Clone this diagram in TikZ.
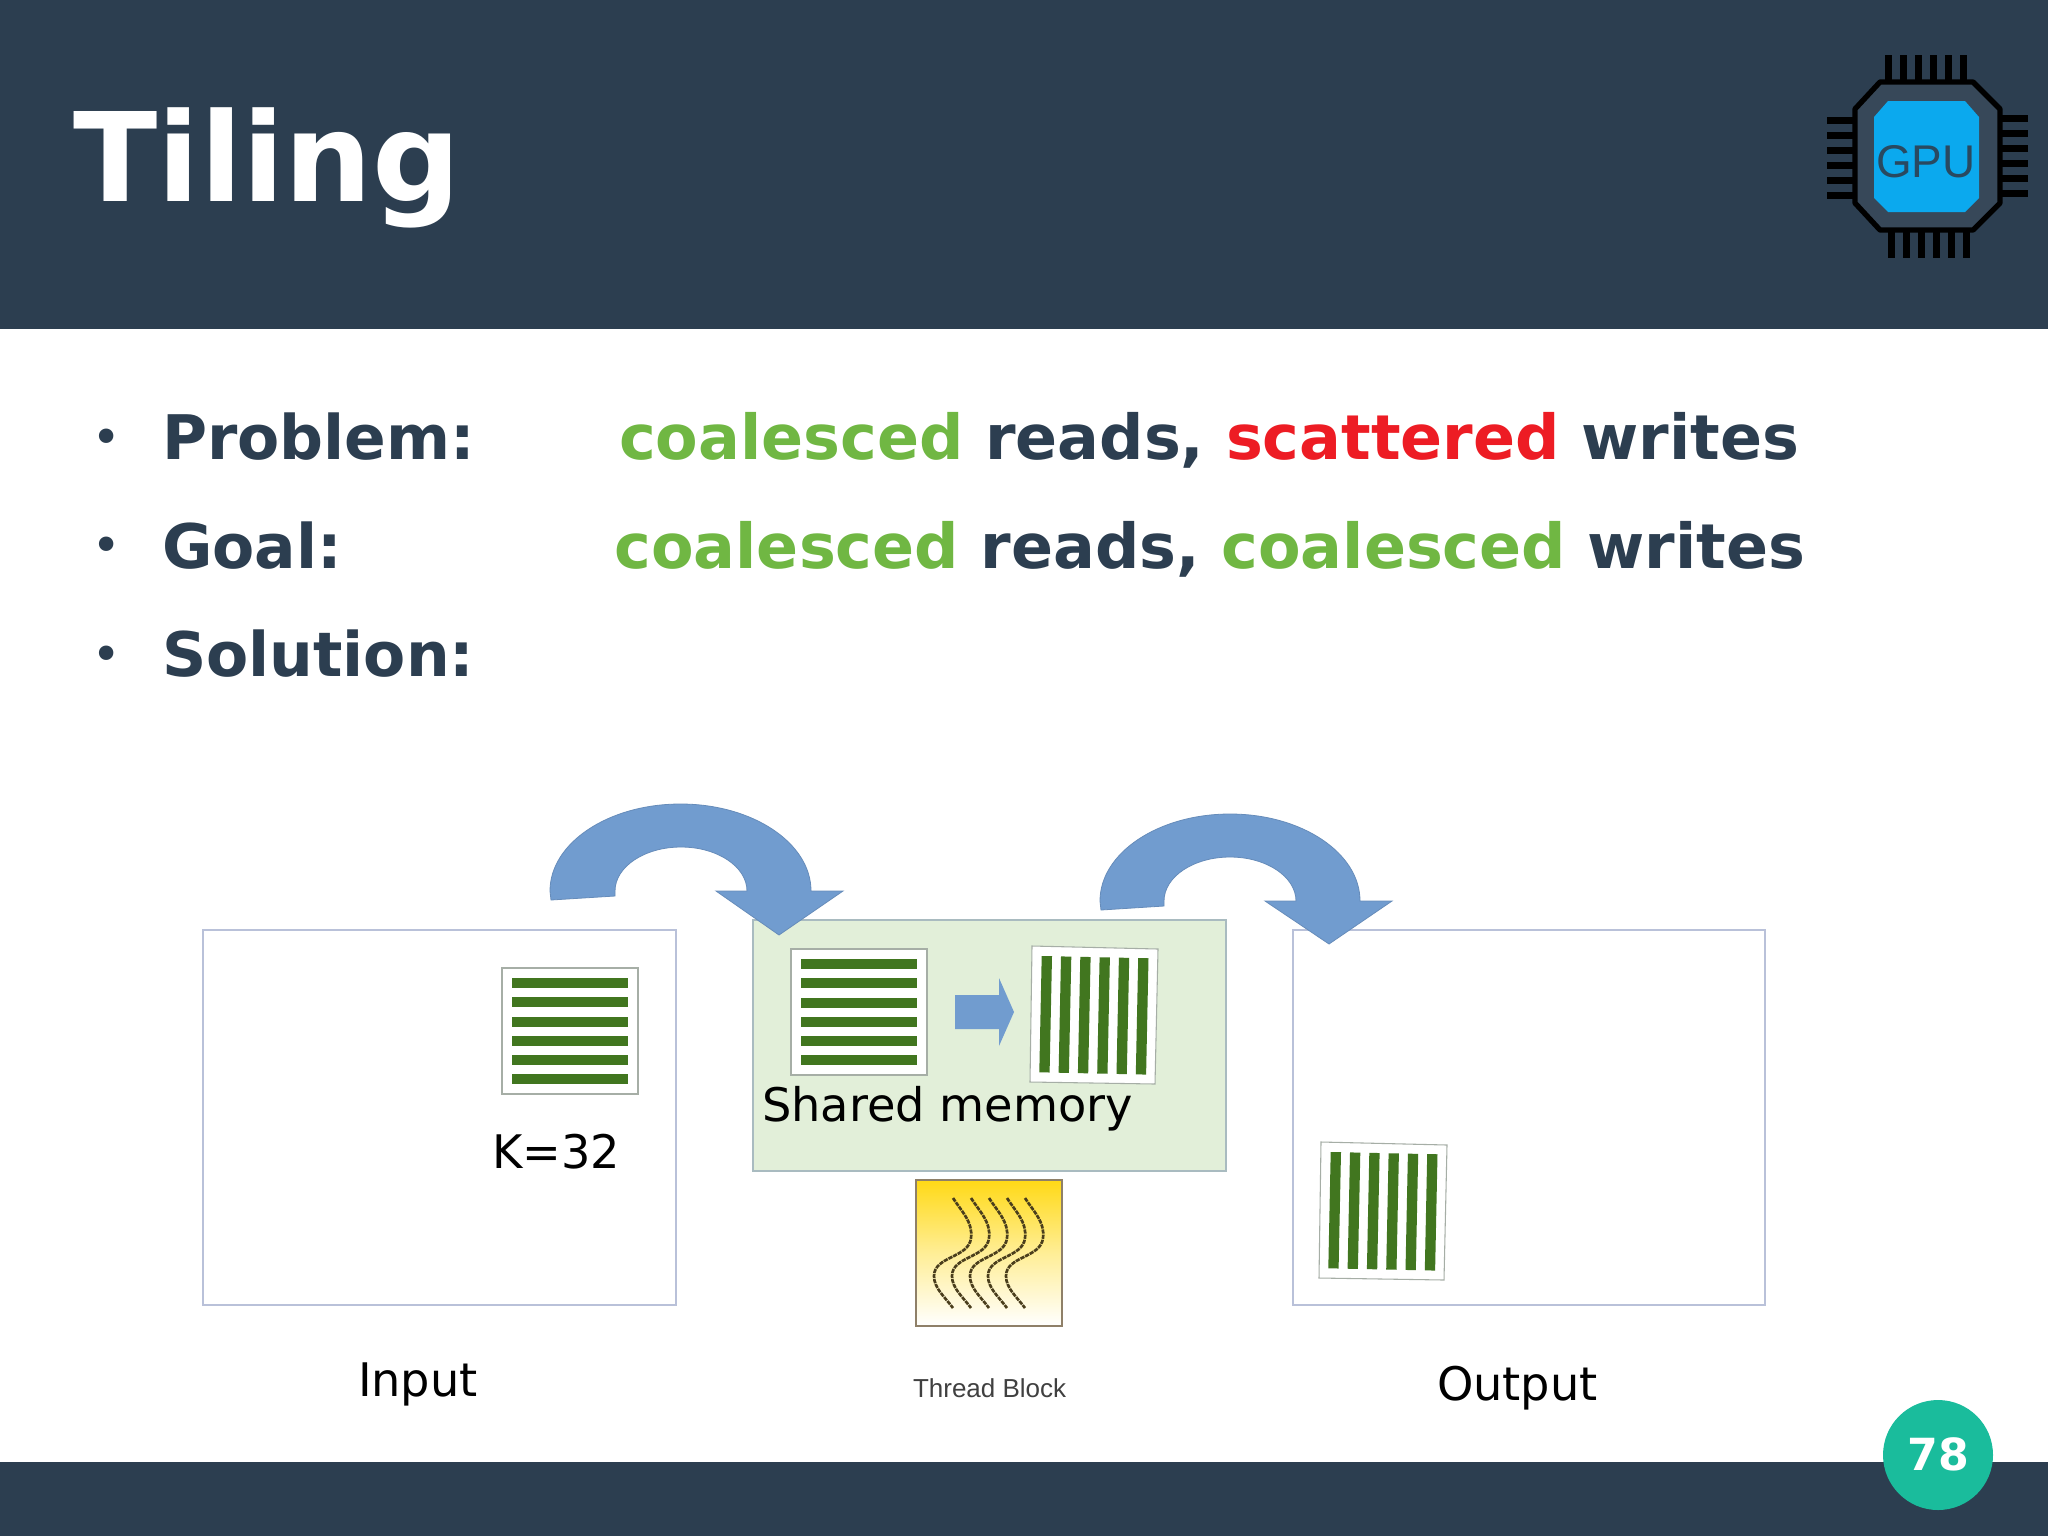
\documentclass[tikz,border=0pt]{standalone}
\usepackage{fontspec}
\setmainfont{DejaVu Sans}
\newfontfamily\libsans{Liberation Sans}
\usetikzlibrary{shadings}
\definecolor{navy}{HTML}{2C3E50}
\definecolor{okgreen}{HTML}{70B743}
\definecolor{badred}{HTML}{ED1C24}
\definecolor{teal}{HTML}{1ABC9C}
\definecolor{arrowblue}{HTML}{719CCF}
\definecolor{bargreen}{HTML}{41761F}
\definecolor{memfill}{HTML}{E2EFD9}
\definecolor{memline}{HTML}{A9BBC0}
\definecolor{boxline}{HTML}{B9C1D9}
\definecolor{tileline}{HTML}{A6AEA6}
\definecolor{chipcyan}{HTML}{0BA9EE}
\definecolor{threadline}{HTML}{4A3E1C}
\definecolor{threadtop}{HTML}{FFD916}
\definecolor{threadframe}{HTML}{8F8068}
\tikzset{
  txt/.style={anchor=base west,inner sep=0pt,outer sep=0pt},
  headword/.style={txt,text=navy,font=\fontsize{23.05}{28}\selectfont\bfseries},
  bulletline/.style={txt,text=navy,font=\fontsize{23.25}{28}\selectfont\bfseries},
  bulletdot/.style={txt,text=navy,font=\fontsize{15.4}{18}\selectfont\bfseries},
  label/.style={txt,text=black,font=\fontsize{17.35}{22}\selectfont},
  bigarrow/.style={fill=arrowblue,draw=arrowblue!90!black,line width=0.3pt,line join=miter},
  areabox/.style={fill=white,draw=boxline,line width=0.55pt},
  tilebox/.style={fill=white,draw=tileline,line width=0.4pt},
  thread/.style={draw=threadline,line width=1pt,dash pattern=on 1.6pt off 0.35pt}
}
\begin{document}
\begin{tikzpicture}[x=0.375pt,y=-0.375pt]
\useasboundingbox (0,0) rectangle (2048,1536);
\fill[white] (0,0) rectangle (2048,1536);
% bands
\fill[navy] (0,0) rectangle (2048,329);
\fill[navy] (0,1462) rectangle (2048,1536);
% title
\node[txt,text=white,font=\fontsize{46.3}{54}\selectfont\bfseries] (title) at (73.5,201.5) {Tiling};
% chip
\foreach \i in {0,...,5}{
  \fill[black] ({1885+15*\i},55) rectangle ({1891.5+15*\i},84);
  \fill[black] ({1888+15*\i},228) rectangle ({1894.5+15*\i},258);
  \fill[black] (1827,{117+15*\i}) rectangle (1857,{123.5+15*\i});
  \fill[black] (1998,{115+15*\i}) rectangle (2028,{121.5+15*\i});
}
\draw[black,line width=2pt,line join=round,fill=navy!95!white] (1880,82) -- (1973,82) -- (2000,109) -- (2000,203) -- (1973,230) -- (1880,230) -- (1855,203) -- (1855,109) -- cycle;
\fill[chipcyan] (1888,101) -- (1965,101) -- (1979,117) -- (1979,198) -- (1965,212) -- (1888,212) -- (1874,198) -- (1874,117) -- cycle;
\node[txt,text=navy!90!chipcyan,font=\libsans\fontsize{17.2}{20}\selectfont] (gpu) at (1876,177) {GPU};
% bullets
\node[bulletdot] (b1) at (93.5,451) {•};
\node[bulletdot] (b2) at (93.5,559) {•};
\node[bulletdot] (b3) at (93.5,668) {•};
\node[headword] (problem) at (162,459.5) {Problem:};
\node[headword] (goal) at (162,568) {Goal:};
\node[headword] (solution) at (162,676.5) {Solution:};
\node[bulletline] (line1) at (619,459.5) {\textcolor{okgreen}{coalesced} reads, \textcolor{badred}{scattered} writes};
\node[bulletline] (line2) at (614.5,568) {\textcolor{okgreen}{coalesced} reads, \textcolor{okgreen}{coalesced} writes};
% areas
\draw[areabox] (203,930) rectangle (676,1305);
\draw[areabox] (1293,930) rectangle (1765,1305);
\draw[fill=memfill,draw=memline,line width=0.55pt] (753,920) rectangle (1226,1171);
% input tile
\draw[tilebox] (502,968) rectangle (638,1094);
\foreach \i in {0,...,5}
  \fill[bargreen] (512,{978+19.25*\i}) rectangle (628,{988+19.25*\i});
% memory tile
\draw[tilebox] (791,949) rectangle (927,1075);
\foreach \i in {0,...,5}
  \fill[bargreen] (801,{959+19.25*\i}) rectangle (917,{969+19.25*\i});
% rotated tiles
\foreach \dx/\dy in {0/0,289/196}{
  \begin{scope}[shift={(\dx,\dy)}]
    \draw[tilebox] (1032,946) -- (1158,949) -- (1155,1084) -- (1030,1082) -- cycle;
    \foreach \i in {0,...,5}
      \fill[bargreen] ({1041.7+19.3*\i},{956+0.41*\i}) -- ({1052+19.3*\i},{956.2+0.41*\i}) -- ({1049.6+19.3*\i},{1072.5+0.41*\i}) -- ({1039.3+19.3*\i},{1072.3+0.41*\i}) -- cycle;
  \end{scope}
}
% small arrow
\fill[arrowblue] (955,995) -- (999,995) -- (999,978) -- (1014,1012) -- (999,1046) -- (999,1029) -- (955,1029) -- cycle;
% curved arrows
\draw[bigarrow] (551,900) -- (550,891) arc[start angle=180,end angle=360,x radius=130.5,y radius=87] -- (843,891) -- (779,935) -- (716,891) -- (747,891) arc[start angle=360,end angle=180,x radius=66,y radius=44] -- (615,896) -- cycle;
\draw[bigarrow] (1101,910) -- (1100,901) arc[start angle=180,end angle=360,x radius=130,y radius=87] -- (1392,901) -- (1329,944) -- (1265,901) -- (1296,901) arc[start angle=360,end angle=180,x radius=66,y radius=44] -- (1164,906) -- cycle;
% thread block
\shade[top color=threadtop,bottom color=white,middle color=threadtop!45!white] (916,1180) rectangle (1062,1326);
\draw[threadframe,line width=0.7pt] (916,1180) rectangle (1062,1326);
\foreach \i in {0,...,4}
  \draw[thread] ({953+18*\i},1198) .. controls ({962+18*\i},1212) and ({973+18*\i},1222) .. ({971+18*\i},1238) .. controls ({969+18*\i},1258) and ({934+18*\i},1256) .. ({934+18*\i},1276) .. controls ({934+18*\i},1288) and ({944+18*\i},1296) .. ({953+18*\i},1308);
% labels
\node[label] (shared) at (762,1121) {Shared memory};
\node[label] (k) at (492,1168.5) {K=32};
\node[label] (input) at (358,1396.5) {Input};
\node[label] (output) at (1437,1400) {Output};
\node[txt,text=black!75,font=\libsans\fontsize{9.75}{12}\selectfont] (tb) at (913,1397) {Thread Block};
% page badge
\fill[teal] (1938,1455) circle (55);
\node[text=white,font=\fontsize{16.6}{20}\selectfont\bfseries,inner sep=0pt,anchor=base] (pg) at (1938,1470.5) {78};
\end{tikzpicture}
\end{document}
